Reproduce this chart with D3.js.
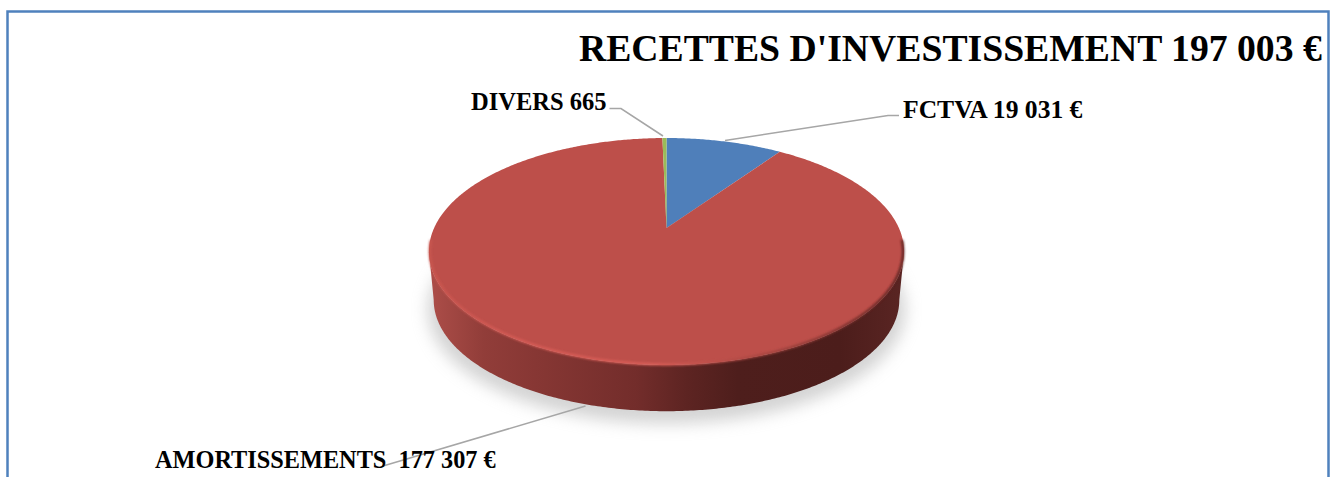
<!DOCTYPE html>
<html>
<head>
<meta charset="utf-8">
<script src="https://cdn.jsdelivr.net/npm/d3@7"></script>
<style>
  html, body { margin: 0; padding: 0; background: #fff; overflow: hidden; }
  text { font-family: "Liberation Serif", serif; font-weight: bold; fill: #000; }
</style>
</head>
<body>
<svg id="chart" width="1333" height="477"></svg>
<script>
var categories = ['FCTVA', 'AMORTISSEMENTS', 'DIVERS'];
var values = [19031, 177307, 665];
var labels = ['FCTVA 19 031 €', 'AMORTISSEMENTS  177 307 €', 'DIVERS 665'];
var title = "RECETTES D'INVESTISSEMENT 197 003 €";

function pieChart(id) {

  var svg = d3.select('#' + id),
      colors = d3.scaleOrdinal().domain(categories).range(['#4f7fba', '#bd4f4a', '#9bbb59']);

  // the disc is seen in perspective, so the centre of the pie sits above the middle of the ellipse
  var cx = 666.5, cy = 228, a = 232.4, b = 108.6, k = 0.207;

  function project(angle, scale, dy) {
    var u = Math.sin(angle), v = -Math.cos(angle), w = 1 - k * v;
    return [cx + scale * a * u / w, cy + dy + scale * b * v / w];
  }

  function samples(from, to) {
    var n = Math.max(2, Math.ceil(Math.abs(to - from) / 0.01));
    return d3.range(n + 1).map(function (i) { return from + (to - from) * i / n; });
  }

  function onRim(from, to, scale, dy) {
    return samples(from, to).map(function (t) { return project(t, scale, dy); });
  }

  var line = d3.line();
  var arcs = d3.pie().sort(null).value(function (d) { return d; })(values);
  var total = 2 * Math.PI;
  var left = total - Math.acos(-k), right = Math.acos(-k);

  var defs = svg.append('defs');

  function gradient(name, stops) {
    defs.append('linearGradient')
        .attr('id', name)
        .attr('gradientUnits', 'userSpaceOnUse')
        .attr('x1', 429).attr('x2', 904).attr('y1', 0).attr('y2', 0)
      .selectAll('stop')
      .data(stops)
      .enter().append('stop')
        .attr('offset', function (d) { return (d[0] - 429) / 475; })
        .attr('stop-color', function (d) { return d[1]; });
  }

  gradient('wall', [[429, '#ad4e49'], [484, '#913d39'], [535, '#873734'], [636, '#732d2b'],
                    [687, '#5d2422'], [738, '#4e1e1c'], [840, '#4c1d1b'], [904, '#5a2523']]);
  gradient('rim', [[429, '#c9564f'], [520, '#d65c56'], [650, '#d95e58'], [760, '#a84641'],
                   [850, '#7a302d'], [904, '#5e2523']]);

  defs.append('filter').attr('id', 'soft')
      .attr('x', '-10%').attr('y', '-20%').attr('width', '120%').attr('height', '140%')
    .append('feGaussianBlur').attr('stdDeviation', 8);
  defs.append('filter').attr('id', 'rimBlur')
    .append('feGaussianBlur').attr('stdDeviation', 1);

  // frame, open at the bottom
  svg.append('path')
      .attr('d', line([[7.5, 477], [7.5, 11.5], [1328.5, 11.5], [1328.5, 477]]))
      .attr('fill', 'none')
      .attr('stroke', '#4f81bd')
      .attr('stroke-width', 2.5);

  // shadow under the disc
  svg.append('path')
      .attr('d', line(onRim(0, total, 1.005, 58)) + 'Z')
      .attr('fill', '#a8a8a8')
      .attr('opacity', 0.5)
      .attr('filter', 'url(#soft)');

  // side wall
  var wall = onRim(right, left, 1, 0).concat(onRim(left, right, 0.98, 49));
  svg.append('path')
      .attr('d', line(wall) + 'Z')
      .attr('fill', 'url(#wall)');

  // top face
  svg.append('g')
    .selectAll('path')
    .data(arcs)
    .enter().append('path')
      .attr('d', function (d) {
        return line([[cx, cy]].concat(onRim(d.startAngle, d.endAngle, 1, 0))) + 'Z';
      })
      .attr('fill', function (d, i) { return colors(categories[i]); });

  // lit edge of the disc
  svg.append('path')
      .attr('d', line(onRim(right - 0.1, left + 0.1, 0.996, 0)))
      .attr('fill', 'none')
      .attr('stroke', 'url(#rim)')
      .attr('stroke-width', 2.5)
      .attr('filter', 'url(#rimBlur)');

  // leader lines
  var leaders = [
    [[725, 140.5], [888, 115.5], [899, 115.5]],
    [[585.5, 406], [383, 466]],
    [[663, 136], [621, 108.5], [609.5, 108.5]]
  ];

  svg.append('g')
    .selectAll('path')
    .data(leaders)
    .enter().append('path')
      .attr('d', function (d) { return line(d); })
      .attr('fill', 'none')
      .attr('stroke', '#a6a6a6')
      .attr('stroke-width', 1.5);

  // texts
  var spots = [[903, 118, 25.6], [155, 468, 24.3], [471, 110, 24.5]];

  svg.append('g')
    .selectAll('text')
    .data(labels)
    .enter().append('text')
      .attr('x', function (d, i) { return spots[i][0]; })
      .attr('y', function (d, i) { return spots[i][1]; })
      .attr('font-size', function (d, i) { return spots[i][2]; })
      .style('white-space', 'pre')
      .text(function (d) { return d; });

  svg.append('text')
      .attr('x', 579)
      .attr('y', 61)
      .attr('font-size', 37.7)
      .text(title);
}

pieChart('chart');
</script>
</body>
</html>
